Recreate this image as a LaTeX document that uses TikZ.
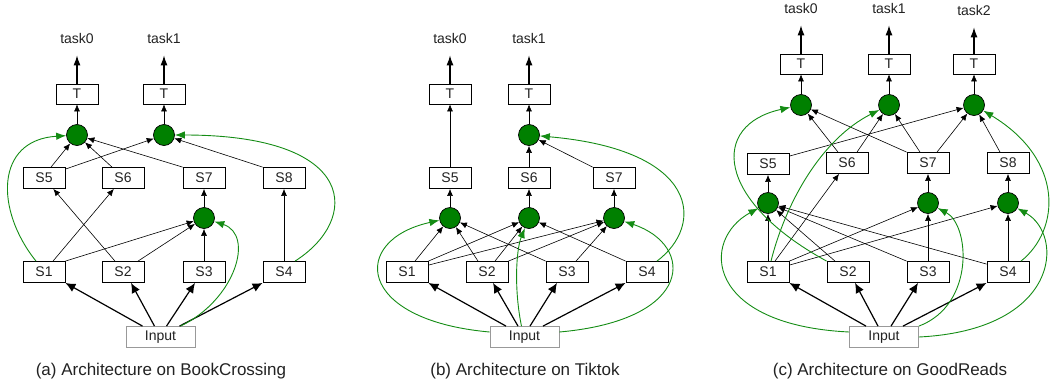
\documentclass[tikz,border=0pt]{standalone}
\usepackage{fontspec}
\setmainfont{Liberation Sans}
\usetikzlibrary{arrows.meta}
\definecolor{gfill}{RGB}{0,128,0}
\definecolor{gline}{RGB}{20,140,20}
\definecolor{txt}{RGB}{34,34,34}
\tikzset{
 nfont/.style={font=\fontsize{14}{16}\selectfont, text=txt},
 sbox/.style={draw, line width=0.8pt, minimum width=42pt, minimum height=21pt, inner sep=0pt, nfont},
 tbox/.style={sbox, minimum height=20pt},
 inbox/.style={draw=gray!80, line width=0.8pt, minimum width=69pt, minimum height=21pt, inner sep=0pt, nfont},
 gnode/.style={circle, draw, line width=0.7pt, fill=gfill, minimum size=21pt, inner sep=0pt},
 tasklbl/.style={nfont, inner sep=0pt},
 captn/.style={font=\fontsize{17}{19}\selectfont, text=txt, inner sep=0pt},
 thin/.style={line width=0.6pt, -{Latex[length=7pt,width=6pt]}},
 inarr/.style={line width=1.2pt, -{Latex[length=10pt,width=9pt]}},
 outarr/.style={line width=1.2pt, -{Latex[length=10pt,width=7pt]}, shorten >=12pt},
 garr/.style={gline, line width=0.9pt, -{Latex[length=10pt,width=7.5pt]}},
}
\begin{document}
\begin{tikzpicture}[x=1pt,y=-1pt]
\useasboundingbox (0,0) rectangle (1050,391);
% ================= panel (a)
\node[tasklbl] (atask0) at (77,38) {task0};
\node[tasklbl] (atask1) at (164,38) {task1};
\node[tbox] (aT0) at (77,94) {T};
\node[tbox] (aT1) at (164,94) {T};
\node[gnode] (aC0) at (77,135) {};
\node[gnode] (aC1) at (164,135) {};
\node[sbox] (aS5) at (44,178) {S5};
\node[sbox] (aS6) at (123,178) {S6};
\node[sbox] (aS7) at (204,178) {S7};
\node[sbox] (aS8) at (284,178) {S8};
\node[gnode] (aCm) at (204,218) {};
\node[sbox] (aS1) at (44,272) {S1};
\node[sbox] (aS2) at (123,272) {S2};
\node[sbox] (aS3) at (204,272) {S3};
\node[sbox] (aS4) at (284,272) {S4};
\node[inbox] (aIn) at (160.5,337) {Input};
\node[captn] (acap) at (161,371) {(a) Architecture on BookCrossing};
\draw[outarr] (aT0) -- (atask0);
\draw[outarr] (aT1) -- (atask1);
\draw[thin] (aC0) -- (aT0);
\draw[thin] (aC1) -- (aT1);
\draw[thin] ([xshift=7pt]aS5.north) -- (aC0);
\draw[thin] ([xshift=-11pt]aS6.north) -- (aC0);
\draw[thin] (aS7.north west) -- (aC0);
\draw[thin] ([yshift=-2pt]aS5.north east) -- (aC1);
\draw[thin] (aS8.north west) -- (aC1);
\draw[thin] (aCm) -- (aS7);
\draw[thin] (aS1.north east) -- (aCm);
\draw[thin] ([xshift=15pt]aS2.north) -- (aCm);
\draw[thin] (aS3) -- (aCm);
\draw[thin] ([xshift=9pt]aS1.north) -- (aS6);
\draw[thin] ([xshift=-8pt]aS2.north) -- (aS5);
\draw[thin] (aS4) -- (aS8);
\draw[inarr] ([xshift=-18pt]aIn.north) -- (aS1.south east);
\draw[inarr] ([xshift=-6pt]aIn.north) -- ([xshift=8pt]aS2.south);
\draw[inarr] ([xshift=6pt]aIn.north) -- ([xshift=-9pt]aS3.south);
\draw[inarr] ([xshift=19pt]aIn.north) -- (aS4.south west);
\draw[garr] ([xshift=-8pt]aS1.north) .. controls (-5,210) and (-5,140) .. (aC0);
\draw[garr] ([xshift=11pt]aS4.north) .. controls (360,220) and (360,135) .. (aC1);
\draw[garr] ([xshift=20pt]aIn.north) .. controls (235,300) and (255,235) .. (aCm);
% ================= panel (b)
\node[tasklbl] (btask0) at (450,38) {task0};
\node[tasklbl] (btask1) at (529,38) {task1};
\node[tbox] (bT0) at (450,94) {T};
\node[tbox] (bT1) at (529,94) {T};
\node[gnode] (bC1) at (529,135) {};
\node[sbox] (bS5) at (450,178) {S5};
\node[sbox] (bS6) at (529,178) {S6};
\node[sbox] (bS7) at (614,178) {S7};
\node[gnode] (bc5) at (450,218) {};
\node[gnode] (bc6) at (529,218) {};
\node[gnode] (bc7) at (614,218) {};
\node[sbox] (bS1) at (407,272) {S1};
\node[sbox] (bS2) at (487,272) {S2};
\node[sbox] (bS3) at (567,272) {S3};
\node[sbox] (bS4) at (647,272) {S4};
\node[inbox] (bIn) at (524.5,337) {Input};
\node[captn] (bcap) at (525,371) {(b) Architecture on Tiktok};
\draw[outarr] (bT0) -- (btask0);
\draw[outarr] (bT1) -- (btask1);
\draw[thin] (bS5) -- (bT0);
\draw[thin] (bC1) -- (bT1);
\draw[thin] (bS6) -- (bC1);
\draw[thin] (bS7.north west) -- (bC1);
\draw[thin] (bc5) -- (bS5);
\draw[thin] (bc6) -- (bS6);
\draw[thin] (bc7) -- (bS7);
\draw[thin] ([xshift=8pt]bS1.north) -- (bc5);
\draw[thin] ([xshift=-9pt]bS2.north) -- (bc5);
\draw[thin] (bS3.north west) -- (bc5);
\draw[thin] (bS1.north east) -- (bc6);
\draw[thin] ([xshift=8pt]bS2.north) -- (bc6);
\draw[thin] (bS4.north west) -- (bc6);
\draw[thin] ([yshift=-4pt]bS1.north east) -- (bc7);
\draw[thin] (bS2.north east) -- (bc7);
\draw[thin] ([xshift=9pt]bS3.north) -- (bc7);
\draw[inarr] ([xshift=-18.5pt]bIn.north) -- (bS1.south east);
\draw[inarr] ([xshift=-6.5pt]bIn.north) -- ([xshift=6pt]bS2.south);
\draw[inarr] ([xshift=5.5pt]bIn.north) -- ([xshift=-10pt]bS3.south);
\draw[inarr] ([xshift=18.5pt]bIn.north) -- (bS4.south west);
\draw[garr] ([yshift=5pt]bIn.west) .. controls (355,320) and (350,240) .. (bc5);
\draw[garr] ([xshift=-3pt]bIn.north) .. controls (514,290) and (516,250) .. (bc6);
\draw[garr] ([yshift=5pt]bIn.east) .. controls (695,320) and (695,245) .. (bc7);
\draw[garr] ([xshift=10pt]bS4.north) .. controls (705,225) and (700,150) .. (bC1);
% ================= panel (c)
\node[tasklbl] (ctask0) at (801,8) {task0};
\node[tasklbl] (ctask1) at (889,8) {task1};
\node[tasklbl] (ctask2) at (974,10) {task2};
\node[tbox] (cT0) at (801,64) {T};
\node[tbox] (cT1) at (889,64) {T};
\node[tbox] (cT2) at (974,64) {T};
\node[gnode] (cC0) at (801,105) {};
\node[gnode] (cC1) at (889,105) {};
\node[gnode] (cC2) at (974,105) {};
\node[sbox] (cS5) at (768,164) {S5};
\node[sbox] (cS6) at (847,163) {S6};
\node[sbox] (cS7) at (928,163) {S7};
\node[sbox] (cS8) at (1008,163) {S8};
\node[gnode] (cL1) at (768,203) {};
\node[gnode] (cL3) at (928,203) {};
\node[gnode] (cL4) at (1008,203) {};
\node[sbox] (cS1) at (768,272) {S1};
\node[sbox] (cS2) at (848,272) {S2};
\node[sbox] (cS3) at (928,272) {S3};
\node[sbox] (cS4) at (1008,272) {S4};
\node[inbox] (cIn) at (884,337) {Input};
\node[captn] (ccap) at (890,371) {(c) Architecture on GoodReads};
\draw[outarr] (cT0) -- (ctask0);
\draw[outarr] (cT1) -- (ctask1);
\draw[outarr] (cT2) -- (ctask2);
\draw[thin] (cC0) -- (cT0);
\draw[thin] (cC1) -- (cT1);
\draw[thin] (cC2) -- (cT2);
\draw[thin] ([xshift=-9pt]cS6.north) -- (cC0);
\draw[thin] ([xshift=10pt]cS6.north) -- (cC1);
\draw[thin] (cS7.north west) -- (cC0);
\draw[thin] ([xshift=-8pt]cS7.north) -- (cC1);
\draw[thin] ([xshift=9pt]cS7.north) -- (cC2);
\draw[thin] ([yshift=-3pt]cS5.north east) -- (cC2);
\draw[thin] ([xshift=-8pt]cS8.north) -- (cC2);
\draw[thin] (cL1) -- (cS5);
\draw[thin] (cL3) -- (cS7);
\draw[thin] (cL4) -- (cS8);
\draw[thin] (cS1) -- (cL1);
\draw[thin] ([xshift=-13pt]cS2.north) -- (cL1);
\draw[thin] (cS3.north west) -- (cL1);
\draw[thin] ([yshift=-3pt]cS4.north west) -- (cL1);
\draw[thin] ([xshift=7pt]cS1.north) -- (cS6);
\draw[thin] (cS1.north east) -- (cL3);
\draw[thin] ([yshift=-4pt]cS1.north east) -- (cL4);
\draw[thin] (cS3) -- (cL3);
\draw[thin] (cS4) -- (cL4);
\draw[inarr] ([xshift=-18pt]cIn.north) -- (cS1.south east);
\draw[inarr] ([xshift=-6pt]cIn.north) -- ([xshift=7pt]cS2.south);
\draw[inarr] ([xshift=7pt]cIn.north) -- ([xshift=-10pt]cS3.south);
\draw[inarr] ([xshift=19pt]cIn.north) -- (cS4.south west);
\draw[garr] (cS2.north west) .. controls (715,200) and (710,125) .. (cC0);
\draw[garr] ([xshift=3pt]cS1.north) .. controls (785,205) and (820,140) .. (cC1);
\draw[garr] ([yshift=5pt]cIn.west) .. controls (705,325) and (700,240) .. (cL1);
\draw[garr] (cIn.north east) .. controls (975,305) and (970,225) .. (cL3);
\draw[garr] (cIn.east) .. controls (1060,330) and (1065,235) .. (cL4);
\draw[garr] ([xshift=13pt]cS4.north) .. controls (1060,230) and (1065,160) .. (cC2);
\end{tikzpicture}
\end{document}
